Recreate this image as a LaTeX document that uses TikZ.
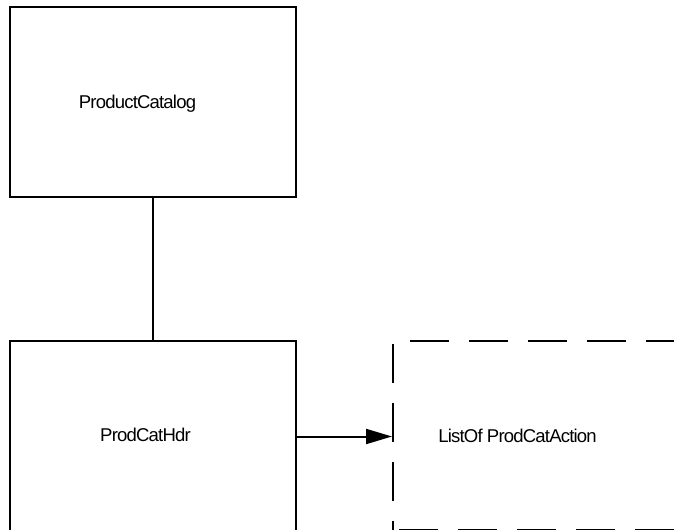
\documentclass[tikz,border=0pt]{standalone}
\usepackage{fontspec}
\setmainfont{Liberation Sans}[LetterSpace=-4.4]
\usetikzlibrary{arrows.meta, positioning}

\begin{document}
\begin{tikzpicture}[
    x=0.75pt, y=-0.75pt,
    box/.style={rectangle, draw=black, line width=1.5pt, minimum width=214.5pt, minimum height=142.5pt, inner sep=0pt},
    listbox/.style={rectangle, draw=black, line width=1.5pt, dash pattern=on 29.25pt off 15pt, dash phase=39.75pt, minimum width=240pt, minimum height=141.75pt, inner sep=0pt},
    lbl/.style={font=\fontsize{13.9}{16}\selectfont, inner sep=0pt},
    arrow/.style={-{Triangle[length=19.5pt, width=11.25pt]}, line width=1.5pt}
]
\useasboundingbox (0,0) rectangle (674,530);
\clip (0,0) rectangle (674,530);

% catalog
\node[box] (cat) at (153,102.5) {};
\node[lbl] (catlbl) at (137.5,103.5) {ProductCatalog};

% header
\node[box, below=0 of cat, yshift=-106.5pt] (hdr) {};
\node[lbl] (hdrlbl) at (145.5,435) {ProdCatHdr};

% list of actions
\node[listbox, anchor=north west] (list) at (392,340) {};
\node[lbl] (listlbl) at (517.5,435.5) {ListOf ProdCatAction};

% connectors
\draw[line width=1.5pt] (cat) -- (hdr);
\draw[arrow] (hdr.east) -- (hdr.east -| list.west);

\end{tikzpicture}
\end{document}
